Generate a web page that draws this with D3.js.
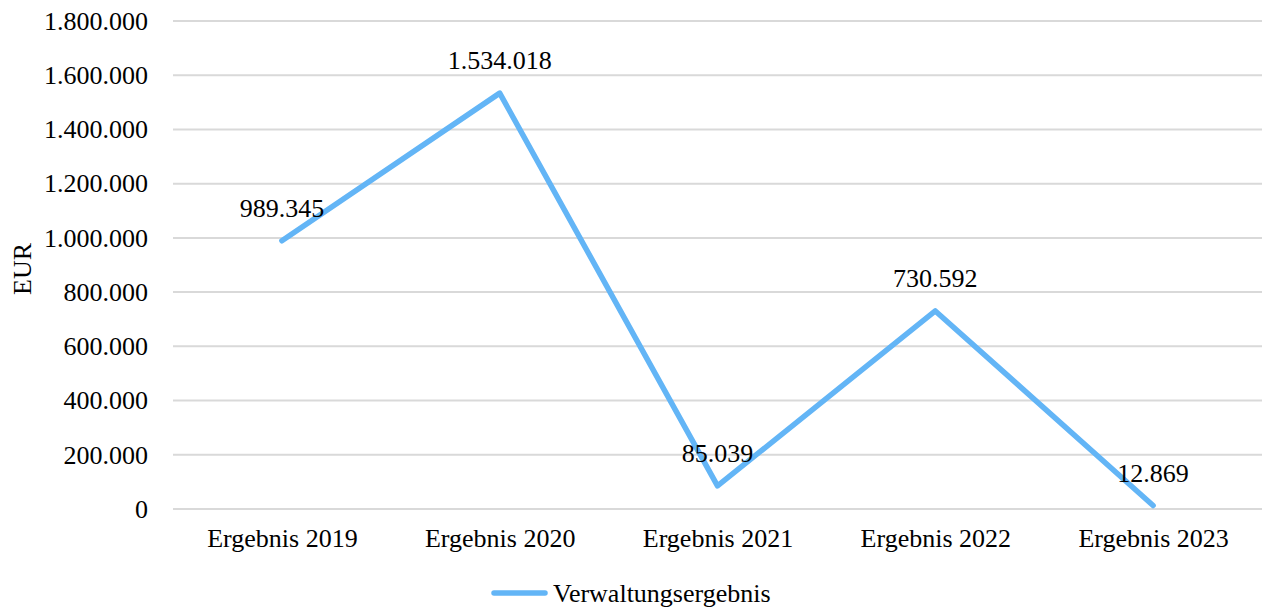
<!DOCTYPE html>
<html><head><meta charset="utf-8">
<script src="https://cdn.jsdelivr.net/npm/d3@7"></script>
</head><body style="margin:0;background:#fff"><svg id="c" width="1270" height="608" font-family="Liberation Serif"></svg>
<script>
const categories = ["Ergebnis 2019","Ergebnis 2020","Ergebnis 2021","Ergebnis 2022","Ergebnis 2023"];
const values = [989345, 1534018, 85039, 730592, 12869];
const labels = ["989.345","1.534.018","85.039","730.592","12.869"];
const yTicks = [0,200000,400000,600000,800000,1000000,1200000,1400000,1600000,1800000];
const seriesName = "Verwaltungsergebnis";
const yTitle = "EUR";

const FONT = "Liberation Serif";
const FS = 26;
const svg = d3.select("#c");
const L=173, R=1262, T=21, B=509;
const x = d3.scalePoint().domain(categories).range([L,R]).padding(0.5);
const y = d3.scaleLinear().domain([0,1800000]).range([B,T]);
const fmt = d3.formatLocale({decimal:",",thousands:".",grouping:[3],currency:["","€"]}).format(",d");
const color = "#63b5f6";

function styleText(sel){ sel.attr("font-family",FONT).attr("font-size",FS).attr("fill","#000"); }

svg.append("g").selectAll("line").data(yTicks).join("line")
  .attr("x1",L).attr("x2",R).attr("y1",d=>y(d)).attr("y2",d=>y(d))
  .attr("stroke","#d9d9d9").attr("stroke-width",2);

const yAxis = svg.append("g").attr("transform",`translate(${L},0)`)
  .call(d3.axisLeft(y).tickValues(yTicks).tickFormat(fmt).tickSize(0).tickPadding(25));
yAxis.attr("font-family",FONT).attr("font-size",FS);
yAxis.select(".domain").remove();
yAxis.selectAll("text").call(styleText);

const xAxis = svg.append("g").attr("transform",`translate(0,${B})`)
  .call(d3.axisBottom(x).tickSize(0).tickPadding(20));
xAxis.attr("font-family",FONT).attr("font-size",FS);
xAxis.select(".domain").remove();
xAxis.selectAll("text").call(styleText);

svg.append("text").attr("transform",`translate(31,269) rotate(-90)`)
  .attr("text-anchor","middle").text(yTitle).call(styleText);

svg.append("path").datum(values)
  .attr("d", d3.line().x((d,i)=>x(categories[i])).y(d=>y(d)))
  .attr("fill","none").attr("stroke",color).attr("stroke-width",5.5)
  .attr("stroke-linecap","round").attr("stroke-linejoin","round");

svg.append("g").selectAll("text").data(values).join("text")
  .attr("x",(d,i)=>x(categories[i])).attr("y",d=>y(d)-24)
  .attr("text-anchor","middle").text((d,i)=>labels[i]).call(styleText);

const lg = svg.append("g");
lg.append("line").attr("x1",494).attr("x2",545).attr("y1",593).attr("y2",593)
  .attr("stroke",color).attr("stroke-width",5.5).attr("stroke-linecap","round");
lg.append("text").attr("x",553).attr("y",602).text(seriesName).call(styleText);
</script></body></html>
